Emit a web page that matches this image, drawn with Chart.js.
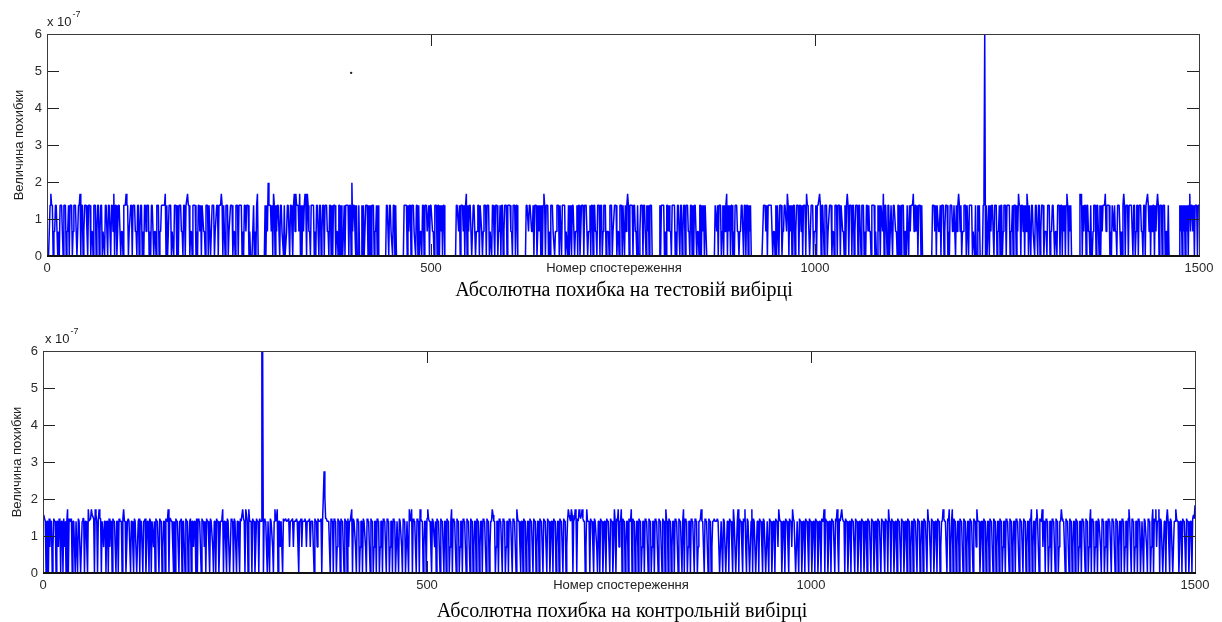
<!DOCTYPE html>
<html lang="uk">
<head>
<meta charset="utf-8">
<title>Абсолютна похибка</title>
<script src="https://cdn.jsdelivr.net/npm/chart.js@4.4.1/dist/chart.umd.min.js"></script>
<style>
  html, body { margin:0; padding:0; background:#fff; }
  body { width:1222px; height:622px; position:relative; overflow:hidden; }
  canvas { position:absolute; left:0; }
  #chart-test { top:0; }
  #chart-ctrl { top:311px; }
</style>
</head>
<body>
<canvas id="chart-test" width="1222" height="311"></canvas>
<canvas id="chart-ctrl" width="1222" height="311"></canvas>

<script>
/* ── Дані ─────────────────────────────────────────────────── */
const N_OBS   = 1500;
const X_TICKS = [0, 500, 1000, 1500];
const Y_TICKS = [0, 1, 2, 3, 4, 5, 6];
const Y_EXP   = -7;            // множник осі Y: x 10^-7

// рівні похибки (у одиницях 10^-7); символ у рядку = індекс рівня
const TEST_LEVELS = [0, 0.66, 1.37, 1.68, 1.98, 6.0];
const TEST_CODES = [
  '0012322011 2220102221 0222011202 2201222101 2230220122 2102220110 2220122012 2011022202 2202213022 0122201102',
  '2232201122 0222110220 1220102212 2201022201 1022201122 2223020122 2011022202 0222110220 2232201102 2220102212',
  '0221102220 2201222011 2202223202 1022201122 2011022202 2220102212 2201000020 1023000000 0002021422 2120320212',
  '2202211020 0122202210 2313222130 2021232032 1102222010 2210220122 0222110220 2022201102 2020012022 2202204122',
  '1020020002 0200222020 2022201120 2000000000 0222022110 2202000000 0000222202 1220222110 2202011022 0222112022',
  '2110222022 0212022000 0000000000 0022212022 2120230212 2201222011 2202210122 2022201102 2102220112 0220122202',
  '2221102220 2200000000 0002221222 1120222012 1202023202 2201022211 0112220220 2222011020 2102220112 0220122202',
  '2220112022 0221102220 2201222011 1022201122 2011022202 2021232022 2202211020 0122202210 2120222000 0000000202',
  '2220102212 1102222010 2210220122 0222110220 2022201102 2021202200 0000000002 2120222012 0212302120 2201022211',
  '0112220220 2202120000 0000000000 0022212022 2222011020 2102220112 2213202120 0220122202 2120222032 2201222011',
  '2022232022 1022201122 2011022202 2202211020 2320222022 0122202210 2220102212 1102222010 0212022130 2210220122',
  '0222110220 2022201102 2021222312 2120222020 0000000000 0022212022 1120222012 2201022211 2202123212 0112220220',
  '2222011020 0212000023 5020020212 2102220112 0220122202 2220112022 2021322022 1202132021 0221102220 2201222011',
  '1022201122 2011022202 2021202320 2120000000 0000323021 2202211020 0122202210 2021222312 2220102212 1102222010',
  '2320222022 2210220122 0222110220 2232120212 2021232022 2022201102 0000000000 0000212021 2021202312 2120222022',
];
const TEST_MARK = [{ x: 396, y: 4.95 }];

const CTRL_LEVELS = [0, 0.70, 1.32, 1.40, 1.47, 1.57, 1.72, 1.83, 2.05, 2.75, 6.0];
const CTRL_CODES = [
  '5430330413 3014330331 4303304130 3604334033 1033043301 3440331063 3465540653 0364403313 3033041330 4331033043',
  '3304633013 4330331043 3013403310 3340133043 0331304331 0433013304 3360443310 3043310334 0331043301 3403313304',
  '0433104331 3043310433 1033043301 3346033104 3301433043 3033104336 4306530633 3043301433 0433aa0433 1033043310',
  '3634603313 3043343334 1333413334 3103341333 4313334133 3104331433 3403898443 3310433043 3014330433 1043304133',
  '3604331043 3013304331 0433104330 1330433013 3043310433 0133043301 3304331043 3013306436 0433104330 6433013304',
  '6433104331 3043310433 1033043301 3604331043 3013304331 0433104330 1330433013 3043310433 0133653301 3304331043',
  '3013304331 0433106433 1033043301 3304331043 3013304331 0433104330 1330433013 3043310433 0136543650 3465043654',
  '5643301633 3043310433 1033043301 3304331043 3016304361 3360433013 3043360433 0133043301 3304331043 3013304331',
  '0433104330 6330433013 3043310433 1036043301 3304331043 3013346331 0433104330 1334333433 0133043301 3304331063',
  '3013604331 0436104330 1360433013 3043310433 0133043301 3304331643 3013304331 0433164330 1330433013 3043310433',
  '0133043301 3304336043 3013304331 0436104336 4330433013 3043310433 0133043301 3304331043 3013304331 0433104330',
  '6330433013 3043310433 0133043301 3304331043 3013304331 0633104330 1330433013 3643310436 0136043301 3304331043',
  '3013304331 0433163330 1330433013 3043310433 0133043301 3304331043 3013304331 0433104330 1330436013 3046310433',
  '6133043301 3304331043 3013364331 0433104330 1330433013 3043310433 0136043301 3304331043 3013304331 0433104330',
  '1330433013 3046310433 0133043301 3304331043 3013604361 3360433013 3046310433 0133643301 3304331043 3013304547',
];

/* ── Helpers ──────────────────────────────────────────────── */
const SANS  = '"Liberation Sans", Arial, Helvetica, sans-serif';
const SERIF = '"Liberation Serif", "Times New Roman", serif';
const TICK  = 12;
const decode = (codes, levels) =>
  codes.join('').replace(/\s/g, '').split('').map((c, i) => ({ x: i + 1, y: levels[parseInt(c, 16)] }));

// рамка в стилі MATLAB: тики всередину з усіх боків + підписи
const matlabAxes = {
  id: 'matlabAxes',
  afterDatasetsDraw(chart, args, o) {
    const { ctx, chartArea: a, scales: { x, y } } = chart;
    ctx.save();
    ctx.lineWidth = 1;
    ctx.strokeStyle = '#222';
    ctx.beginPath();
    Y_TICKS.forEach(v => {
      const py = Math.round(y.getPixelForValue(v)) + .5;
      ctx.moveTo(a.left, py);  ctx.lineTo(a.left + TICK, py);
      ctx.moveTo(a.right, py); ctx.lineTo(a.right - TICK, py);
    });
    X_TICKS.forEach(v => {
      const px = Math.round(x.getPixelForValue(v)) + .5;
      ctx.moveTo(px, a.bottom); ctx.lineTo(px, a.bottom - TICK);
      ctx.moveTo(px, a.top);    ctx.lineTo(px, a.top + TICK);
    });
    ctx.stroke();
    ctx.strokeStyle = '#3a3a3a';
    ctx.strokeRect(a.left + .5, a.top + .5, a.right - a.left, a.bottom - a.top);
    ctx.strokeStyle = '#111'; ctx.lineWidth = 2;
    ctx.beginPath(); ctx.moveTo(a.left, a.bottom); ctx.lineTo(a.right + 1, a.bottom); ctx.stroke();

    // x 10^-7
    ctx.fillStyle = '#222';
    ctx.textBaseline = 'middle'; ctx.textAlign = 'left';
    ctx.font = `13px ${SANS}`;
    const ex = a.left + o.expDx;
    ctx.fillText('x 10', ex, a.top - 12);
    const w = ctx.measureText('x 10').width;
    ctx.font = `9px ${SANS}`;
    ctx.fillText(String(Y_EXP), ex + w + 1, a.top - 19);

    // підпис осі X (у рядку з мітками)
    ctx.font = `13px ${SANS}`;
    ctx.textAlign = 'center';
    ctx.fillText(o.xLabel, o.xLabelX, a.bottom + 12);

    // підпис осі Y
    ctx.save();
    ctx.translate(o.yLabelX, (a.top + a.bottom) / 2);
    ctx.rotate(-Math.PI / 2);
    ctx.fillText(o.yLabel, 0, 0);
    ctx.restore();

    // заголовок під графіком
    ctx.fillStyle = '#000';
    ctx.font = `20px ${SERIF}`;
    ctx.fillText(o.title, o.titleX, a.bottom + o.titleDy);
    ctx.restore();
  }
};

function criarGrafico(elId, pontos, extra, cfg) {
  const datasets = [{
    data: pontos, borderColor: '#0000ff', borderWidth: 1.5, borderJoinStyle: 'bevel',
    pointRadius: 0, tension: 0, fill: false,
  }];
  if (extra) datasets.push({ data: extra, showLine: false, pointRadius: 1.2, pointBackgroundColor: '#222', pointBorderWidth: 0 });

  return new Chart(document.getElementById(elId), {
    type: 'line',
    data: { datasets },
    plugins: [matlabAxes],
    options: {
      responsive: false, animation: false, events: [], devicePixelRatio: 1,
      parsing: false, normalized: true,
      layout: { padding: { top: cfg.top, right: cfg.right, left: 0, bottom: 0 } },
      plugins: { legend: { display: false }, tooltip: { enabled: false }, matlabAxes: cfg },
      scales: {
        x: {
          type: 'linear', min: 0, max: N_OBS,
          afterBuildTicks: s => { s.ticks = X_TICKS.map(v => ({ value: v })); },
          afterFit: s => { s.height = cfg.xh; },
          grid: { display: false, drawTicks: false }, border: { display: false },
          ticks: { padding: 5, color: '#2a2a2a', font: { family: SANS, size: 13 }, maxRotation: 0, autoSkip: false,
                   callback: v => String(v) },
        },
        y: {
          type: 'linear', min: 0, max: 6,
          afterBuildTicks: s => { s.ticks = Y_TICKS.map(v => ({ value: v })); },
          afterFit: s => { s.width = cfg.yw; },
          grid: { display: false, drawTicks: false }, border: { display: false },
          ticks: { padding: 5, color: '#2a2a2a', font: { family: SANS, size: 13 }, callback: v => String(v) },
        },
      },
    },
  });
}

/* ── Графіки ──────────────────────────────────────────────── */
criarGrafico('chart-test', decode(TEST_CODES, TEST_LEVELS), TEST_MARK, {
  top: 34, right: 23, yw: 47, xh: 55,
  expDx: 0, yLabelX: 19, xLabelX: 614, titleX: 624, titleDy: 35,
  xLabel: 'Номер спостереження', yLabel: 'Величина похибки',
  title: 'Абсолютна похибка на тестовій вибірці',
});

criarGrafico('chart-ctrl', decode(CTRL_CODES, CTRL_LEVELS), null, {
  top: 40, right: 27, yw: 43, xh: 49,
  expDx: 2, yLabelX: 17, xLabelX: 621, titleX: 622, titleDy: 39,
  xLabel: 'Номер спостереження', yLabel: 'Величина похибки',
  title: 'Абсолютна похибка на контрольній вибірці',
});
</script>
</body>
</html>
